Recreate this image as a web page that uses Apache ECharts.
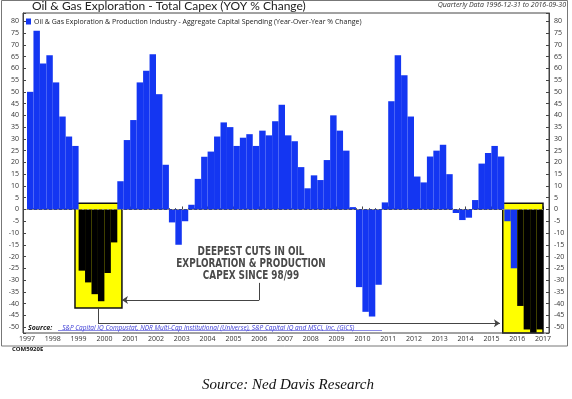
<!DOCTYPE html>
<html>
<head>
<meta charset="utf-8">
<script src="https://cdn.jsdelivr.net/npm/echarts@6/dist/echarts.min.js"></script>
<style>
  html, body { margin: 0; padding: 0; background: #fff; }
  #chart { width: 572px; height: 399px; }
</style>
</head>
<body>
<div id="chart"></div>
<script>
// quarter-end dates, 1996-12-31 .. 2016-09-30
const quarters = [
  "1996-12-31",
  "1997-03-31", "1997-06-30", "1997-09-30", "1997-12-31",
  "1998-03-31", "1998-06-30", "1998-09-30", "1998-12-31",
  "1999-03-31", "1999-06-30", "1999-09-30", "1999-12-31",
  "2000-03-31", "2000-06-30", "2000-09-30", "2000-12-31",
  "2001-03-31", "2001-06-30", "2001-09-30", "2001-12-31",
  "2002-03-31", "2002-06-30", "2002-09-30", "2002-12-31",
  "2003-03-31", "2003-06-30", "2003-09-30", "2003-12-31",
  "2004-03-31", "2004-06-30", "2004-09-30", "2004-12-31",
  "2005-03-31", "2005-06-30", "2005-09-30", "2005-12-31",
  "2006-03-31", "2006-06-30", "2006-09-30", "2006-12-31",
  "2007-03-31", "2007-06-30", "2007-09-30", "2007-12-31",
  "2008-03-31", "2008-06-30", "2008-09-30", "2008-12-31",
  "2009-03-31", "2009-06-30", "2009-09-30", "2009-12-31",
  "2010-03-31", "2010-06-30", "2010-09-30", "2010-12-31",
  "2011-03-31", "2011-06-30", "2011-09-30", "2011-12-31",
  "2012-03-31", "2012-06-30", "2012-09-30", "2012-12-31",
  "2013-03-31", "2013-06-30", "2013-09-30", "2013-12-31",
  "2014-03-31", "2014-06-30", "2014-09-30", "2014-12-31",
  "2015-03-31", "2015-06-30", "2015-09-30", "2015-12-31",
  "2016-03-31", "2016-06-30", "2016-09-30"
];

// YoY % change in aggregate capex, same order as quarters
const capexYoY = [
  50,
  76, 62, 65.5, 54,
  39.5, 31, 27, -26,
  -31, -36, -39, -27,
  -14, 12, 29.5, 38,
  54, 59, 66, 49,
  19, -5.5, -15, -5,
  2, 13, 22.4, 24.6,
  31, 37, 35, 27,
  30.5, 32, 27, 33.5,
  31.5, 37.5, 44.5, 31.5,
  29, 18, 9, 14.5,
  12.5, 21, 40, 33.5,
  25, 1, -33, -43.5,
  -45.5, -32, 3, 46,
  65.5, 57, 39.5, 14,
  11.5, 22.5, 25, 27.5,
  15, -1.5, -4.5, -3.5,
  4, 19.5, 24, 27,
  22.5, -5, -25, -41,
  -51, -52.5, -51
];

// quarters inside the two highlighted boxes
const deepCuts = [
  "1998-12-31", "1999-03-31", "1999-06-30", "1999-09-30", "1999-12-31", "2000-03-31",
  "2015-12-31", "2016-03-31", "2016-06-30", "2016-09-30"
];

const yearTicks = [1997, 2017];
const yRange = [-52.5, 83.5];

const title = "Oil & Gas Exploration - Total Capex (YOY % Change)";
const seriesName = "Oil & Gas Exploration & Production Industry - Aggregate Capital Spending (Year-Over-Year % Change)";

const blue = "#1436F2";
const cutSet = new Set(deepCuts);

const chart = echarts.init(document.getElementById("chart"));

const yLabel = {
  fontSize: 7,
  color: "#333",
  fontFamily: "Open Sans",
  formatter: (v) => (v % 5 === 0 ? String(v) : "")
};

let option = {
  animation: false,
  backgroundColor: "#fff",
  textStyle: { fontFamily: "Open Sans" },
  grid: { left: 27, right: 29, top: 13, bottom: 66 },
  legend: {
    left: 26,
    top: 18,
    itemWidth: 5,
    itemHeight: 6,
    itemGap: 4,
    padding: 0,
    textStyle: { fontSize: 7, color: "#222", fontFamily: "Open Sans", padding: [0, 0, 0, -2] },
    data: [{ name: seriesName, icon: "rect", itemStyle: { color: blue } }]
  },
  xAxis: [
    {
      type: "category",
      data: quarters,
      show: false,
      boundaryGap: true
    },
    {
      type: "value",
      min: yearTicks[0],
      max: yearTicks[1],
      interval: 1,
      position: "bottom",
      axisLine: { show: true, lineStyle: { color: "#444", width: 1 } },
      axisTick: { show: true, inside: true, length: 3, lineStyle: { color: "#444" } },
      minorTick: { show: true, splitNumber: 4, length: 1.5, lineStyle: { color: "#666" } },
      splitLine: { show: false },
      axisLabel: {
        fontSize: 7,
        color: "#333",
        margin: 2,
        fontFamily: "Open Sans",
        showMinLabel: true,
        showMaxLabel: true,
        formatter: (v) => String(v)
      }
    }
  ],
  yAxis: [
    {
      type: "value",
      min: yRange[0],
      max: yRange[1],
      minInterval: 5,
      maxInterval: 5,
      position: "left",
      offset: 4,
      axisLine: { show: true, lineStyle: { color: "#444" } },
      axisTick: { show: true, inside: true, length: 3, lineStyle: { color: "#444" } },
      splitLine: { show: false },
      axisLabel: Object.assign({ margin: 4 }, yLabel)
    },
    {
      type: "value",
      min: yRange[0],
      max: yRange[1],
      minInterval: 5,
      maxInterval: 5,
      position: "right",
      offset: 6,
      axisLine: { show: true, lineStyle: { color: "#444" } },
      axisTick: { show: true, inside: true, length: 3, lineStyle: { color: "#444" } },
      splitLine: { show: false },
      axisLabel: Object.assign({ margin: 5 }, yLabel)
    }
  ],
  series: [
    {
      // highlight boxes + arrows, drawn in year/value coordinates
      type: "line",
      xAxisIndex: 1,
      yAxisIndex: 0,
      data: [[2000, 0]],
      symbol: "none",
      lineStyle: { opacity: 0 },
      clip: false,
      z: 1,
      silent: true,
      markArea: {
        silent: true,
        itemStyle: { color: "#FFFF00", borderColor: "#111", borderWidth: 1.5 },
        data: [
          [{ coord: [1998.86, 2.6] }, { coord: [2000.68, -41.9] }],
          [{ coord: [2015.44, 2.6] }, { coord: [2017.2, -52.5] }]
        ]
      },
      markLine: {
        silent: true,
        symbol: ["none", "none"],
        symbolSize: 6,
        label: { show: false },
        lineStyle: { color: "#444", width: 1, type: "solid" },
        data: [
          [{ coord: [2006.0, -31.2] }, { coord: [2006.0, -38.5] }],
          [{ coord: [2006.0, -38.5] }, { coord: [2000.68, -38.5], symbol: "arrow" }],
          [{ coord: [1999.75, -41.9] }, { coord: [1999.75, -48.4] }],
          [{ coord: [1999.75, -48.4] }, { coord: [2015.33, -48.4], symbol: "arrow" }]
        ]
      }
    },
    {
      name: seriesName,
      type: "bar",
      xAxisIndex: 0,
      yAxisIndex: 0,
      data: capexYoY,
      barCategoryGap: "0%",
      color: blue,
      z: 3,
      itemStyle: {
        color: (p) => (cutSet.has(p.name) ? "#000" : blue)
      },
      markLine: {
        silent: true,
        symbol: ["none", "none"],
        label: { show: false },
        lineStyle: { color: "#888", width: 1, type: [2, 3] },
        data: [{ yAxis: 0 }]
      }
    }
  ],
  graphic: [
    {
      type: "rect",
      shape: { x: 1.5, y: 0.5, width: 566, height: 345.5 },
      style: { fill: null, stroke: "#777", lineWidth: 1 },
      silent: true,
      z: 0
    },
    {
      type: "rect",
      shape: { x: 23, y: 13, width: 526, height: 320 },
      style: { fill: null, stroke: "#444", lineWidth: 1 },
      silent: true,
      z: 10
    },
    {
      type: "text",
      left: 32,
      top: 0,
      style: { text: title, fontSize: 12, fontFamily: "Lato", fill: "#222" }
    },
    {
      type: "text",
      right: 6,
      top: 1,
      style: { text: "Quarterly Data 1996-12-31 to 2016-09-30", fontSize: 7, fontStyle: "italic", fontFamily: "Open Sans", fill: "#333" }
    },
    {
      type: "text",
      x: 251,
      y: 246,
      scaleX: 0.82,
      style: {
        text: "DEEPEST CUTS IN OIL\nEXPLORATION & PRODUCTION\nCAPEX SINCE 98/99",
        align: "center",
        fontSize: 12,
        lineHeight: 12,
        fontWeight: "bold",
        fontFamily: "DejaVu Sans Condensed",
        fill: "#4a4a4a"
      },
      z: 20
    },
    {
      type: "text",
      x: 28,
      y: 322,
      style: {
        rich: {
          b: { fontSize: 7, fontWeight: "bold", fontStyle: "italic", fill: "#222", fontFamily: "Open Sans" },
          l: { fontSize: 6.5, fontStyle: "italic", fill: "#3b3bd6", fontFamily: "Open Sans" },
          n: { fontSize: 6.5, fontStyle: "italic", fill: "#3b3bd6", fontFamily: "Open Sans" }
        },
        text: "{b|Source:}   {l|S&P Capital IQ Compustat}{n|, }{l|NDR Multi-Cap Institutional (Universe)}{n|, }{l|S&P Capital IQ and MSCI, Inc. (GICS)}"
      },
      z: 20
    },
    {
      type: "line",
      shape: { x1: 58, y1: 330.5, x2: 382, y2: 330.5 },
      style: { stroke: "#3b3bd6", lineWidth: 0.6 },
      z: 20
    },
    {
      type: "text",
      x: 12,
      y: 346,
      style: { text: "COM5920E", fontSize: 6, fontWeight: "bold", fontFamily: "Open Sans", fill: "#111" }
    },
    {
      type: "text",
      x: 288,
      y: 385,
      style: {
        text: "Source: Ned Davis Research",
        align: "center",
        verticalAlign: "middle",
        fontSize: 15,
        fontStyle: "italic",
        fontFamily: "Liberation Serif",
        fill: "#111"
      }
    }
  ]
};

chart.setOption(option);
</script>
</body>
</html>
